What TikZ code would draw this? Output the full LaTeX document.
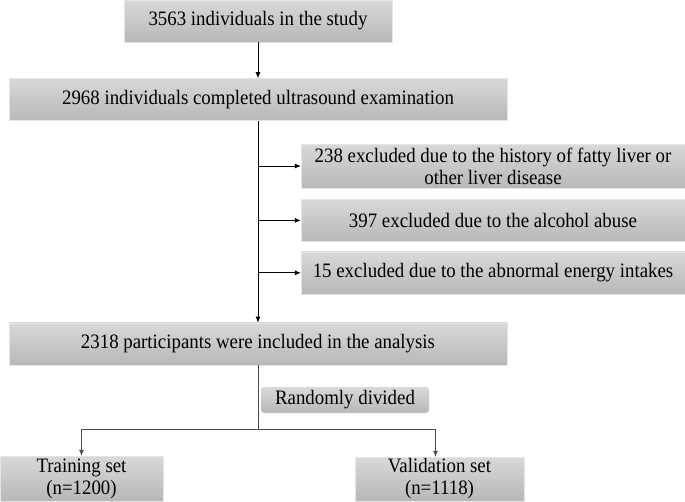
\documentclass[tikz,border=0pt]{standalone}
\usepackage{fontspec}
\setmainfont{Liberation Serif}[FakeStretch = 0.92]
\usetikzlibrary{arrows.meta, positioning, shadings}
\tikzset{> = { Latex[length = 6pt, width = 5pt] }}

\begin{document}
\begin{tikzpicture}[x = 1pt, y = 1pt, line width = 0.8pt,
		box/.style = { top color = black!15, bottom color = black!28, draw = black!10, line width = 0.4pt, inner sep = 0pt, align = center, font = \fontsize{20.5}{22}\selectfont },
		wide/.style = { box, minimum width = 498pt, minimum height = 42pt },
		excl/.style = { box, minimum width = 384pt, minimum height = 42pt },
		split/.style = { draw = black!70, line width = 0.7pt }]
	\useasboundingbox (0,0) rectangle (685,-501);

	\node [box, minimum width = 268pt, minimum height = 42pt] (study) at (258,-21) {3563 individuals in the study};
	\node [wide, below = 36pt of study] (us) {2968 individuals completed ultrasound examination};

	\node [excl, minimum height = 44pt] (exA) at (493,-166) {238 excluded due to the history of fatty liver or\\other liver disease};
	\node [excl, below = 11pt of exA] (exB) {397 excluded due to the alcohol abuse};
	\node [excl, below = 10pt of exB] (exC) {15 excluded due to the abnormal energy intakes};

	\node [wide, below = 202pt of us] (incl) {2318 participants were included in the analysis};
	\node [box, rounded corners = 3pt, minimum width = 168pt, minimum height = 26pt] (rand) at (345,-400) {Randomly divided};

	\node [box, minimum width = 163pt, minimum height = 45pt] (train) at (81.5,-478.5) {Training set\\(n=1200)};
	\node [box, minimum width = 169pt, minimum height = 44pt] (valid) at (439.5,-479) {Validation set\\(n=1118)};
	\coordinate (fork) at (258,-429);

	\draw [->] (study) -- (us);
	\draw [->] (us) -- (incl);
	\draw [->] (us.south |- exA) -- (exA);
	\draw [->] (us.south |- exB) -- (exB);
	\draw [->] (us.south |- exC) -- (exC);

	\draw [split] (incl) -- (fork);
	\draw [split, ->] (fork) -| (train);
	\draw [split, ->] (fork) -| ([xshift = -4pt]valid.north);
\end{tikzpicture}
\end{document}
